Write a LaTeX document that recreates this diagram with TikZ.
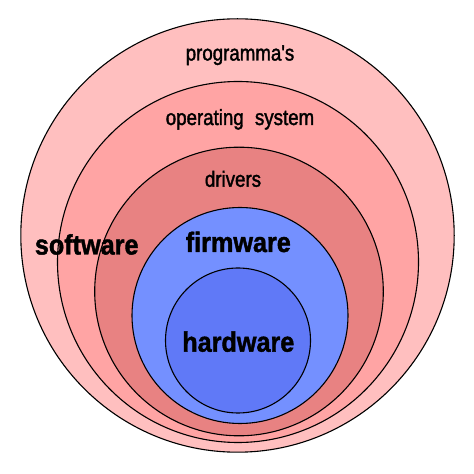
\documentclass[tikz,border=0pt]{standalone}
\usepackage{fontspec}
\setmainfont{Liberation Sans}
\newfontfamily\labelfont[FakeBold=1.8]{Liberation Sans}
\newfontfamily\bigfont[BoldFeatures={FakeBold=1.5}]{Liberation Sans}
\usepackage{xcolor}
\definecolor{progpink}{HTML}{FFBFBF}
\definecolor{ospink}{HTML}{FFA4A4}
\definecolor{drvred}{HTML}{E88282}
\definecolor{firmblue}{HTML}{7490FF}
\definecolor{hardblue}{HTML}{6079F7}
\tikzset{ring/.style={circle, draw, line width=1.1pt, inner sep=0pt},
         small/.style={font=\labelfont\fontsize{22}{22}\selectfont, xscale=0.85,
                       anchor=base, inner sep=0pt},
         big/.style={font=\bigfont\bfseries\fontsize{28}{28}\selectfont, xscale=0.9,
                     anchor=base, inner sep=0pt}}

\begin{document}
\begin{tikzpicture}[x=1pt, y=1pt]
		\useasboundingbox (0,0) rectangle (474,474);
		% layers, outside in
		\node [ring, fill=progpink, minimum size=433.4pt] (prog) at (237.5,238.5) {};
		\node [ring, fill=ospink,   minimum size=361pt]   (os)   at (238,212) {};
		\node [ring, fill=drvred,   minimum size=288.6pt] (drv)  at (239,182.5) {};
		\node [ring, fill=firmblue, minimum size=216pt]   (firm) at (240,158.5) {};
		\node [ring, fill=hardblue, minimum size=145pt]   (hard) at (238,133.5) {};
		% labels
		\node [small] (progtext) at (240,413.5) {programma's};
		\node [small] (ostext) at (240,349) {operating\hspace{0.6em}system};
		\node [small] (drvtext) at (233,287.3) {drivers};
		\node [big] (softtext) at (86.7,219.5) {software};
		\node [big] (firmtext) at (238.3,222) {firmware};
		\node [big] (hardtext) at (238.3,122.3) {hardware};
	\end{tikzpicture}
\end{document}
